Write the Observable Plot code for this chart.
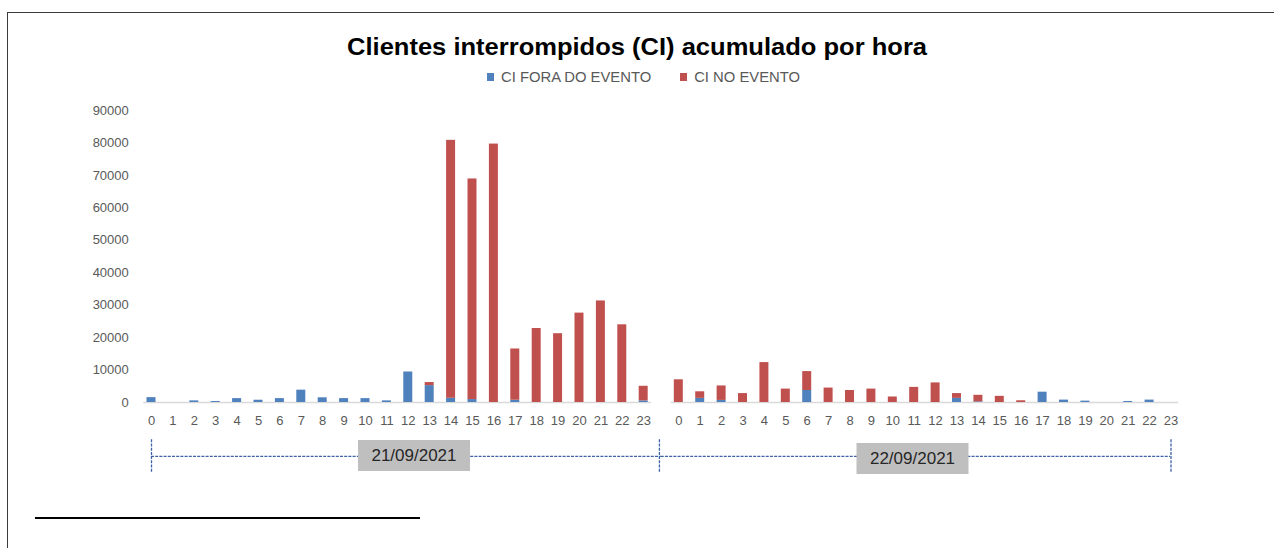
<!DOCTYPE html>
<html>
<head>
<meta charset="utf-8">
<script src="https://cdn.jsdelivr.net/npm/d3@7"></script>
<script src="https://cdn.jsdelivr.net/npm/@observablehq/plot@0.6"></script>
<style>
  body { margin: 0; background: #fff; }
  #wrap { position: relative; width: 1274px; height: 548px; overflow: hidden; font-family: "Liberation Sans", Arial, sans-serif; }
  #chart { position: absolute; left: 0; top: 0; }
  #bTop { position: absolute; left: 7px; top: 12px; width: 1270px; height: 0; border-top: 1.5px solid #3a3a3a; }
  #bLeft { position: absolute; left: 7px; top: 12px; width: 0; height: 540px; border-left: 1.5px solid #3a3a3a; }
  #title { position: absolute; top: 34px; left: 0; width: 1274px; text-align: center; white-space: nowrap; }
  #title span { display: inline-block; font-weight: bold; font-size: 23.5px; color: #000; transform-origin: center; }
  #legend { position: absolute; top: 69px; left: 487px; display: flex; align-items: center; font-size: 14.8px; color: #595959; white-space: nowrap; }
  #legend .sw { width: 7px; height: 8px; margin-right: 7px; }
  #legend .item { display: flex; align-items: center; }
  #foot { position: absolute; left: 35px; top: 517px; width: 385px; height: 2px; background: #000; }
</style>
</head>
<body>
<div id="wrap">
  <div id="chart"></div>
  <div id="bTop"></div>
  <div id="bLeft"></div>
  <div id="title"><span id="titleText"></span></div>
  <div id="legend"></div>
  <div id="foot"></div>
</div>
<script>
// ---- Data ----
const titleText = "Clientes interrompidos (CI) acumulado por hora";
const days = ["21/09/2021", "22/09/2021"];
const hours = [0,1,2,3,4,5,6,7,8,9,10,11,12,13,14,15,16,17,18,19,20,21,22,23];
const series = ["CI FORA DO EVENTO", "CI NO EVENTO"];
const colors = ["#4F81BD", "#C0504D"];
const yTicks = [0,10000,20000,30000,40000,50000,60000,70000,80000,90000];

// Day 1 (21/09/2021)
const fora1 = [1500,0,500,300,1200,700,1200,3800,1450,1200,1200,500,9400,5200,1300,900,0,700,0,0,0,0,0,500];
const no1   = [0,0,0,0,0,0,0,0,0,0,0,0,0,950,79500,68000,79650,15800,22800,21200,27550,31300,23950,4500];
// Day 2 (22/09/2021)
const fora2 = [0,1270,640,0,0,0,3700,0,0,0,0,0,0,1270,200,0,0,3180,740,420,0,300,740,0];
const no2   = [7000,2030,4460,2750,12300,4130,5830,4450,3700,4130,1700,4660,6040,1480,2020,1900,530,0,0,0,0,0,0,0];

// ---- Tidy table ----
const rows = [];
[[fora1, no1], [fora2, no2]].forEach(([fora, no], di) => {
  hours.forEach((h, i) => {
    rows.push({day: days[di], hour: h, serie: series[0], value: fora[i]});
    rows.push({day: days[di], hour: h, serie: series[1], value: no[i]});
  });
});

// ---- Title & legend ----
const tEl = document.getElementById("titleText");
tEl.textContent = titleText;
const legend = document.getElementById("legend");
series.forEach((s, i) => {
  const it = document.createElement("div");
  it.className = "item";
  if (i > 0) it.style.marginLeft = "29px";
  const sw = document.createElement("div");
  sw.className = "sw";
  sw.style.background = colors[i];
  const tx = document.createElement("span");
  tx.textContent = s;
  it.appendChild(sw); it.appendChild(tx);
  legend.appendChild(it);
});

// ---- Chart ----
const annY = -16600;      // level of the date axis (below the baseline)
const dash = {stroke: "#3d62a6", strokeWidth: 1.3, strokeDasharray: "3,1.2"};
const boxSymbol = {draw(ctx) { ctx.rect(-56, -15.5, 112, 31); }};

const plot = Plot.plot({
  width: 1274,
  height: 548,
  marginTop: 110,
  marginBottom: 146,
  marginLeft: 143.3,
  marginRight: 95.8,
  style: {fontFamily: "'Liberation Sans', Arial, sans-serif", fontSize: "13px", color: "#595959", background: "transparent", overflow: "visible"},
  fx: {domain: days, paddingInner: 0.0374, paddingOuter: 0, round: false, axis: null, label: null},
  x: {type: "band", domain: hours, paddingInner: 0.58, paddingOuter: 0.15, align: 0.5, round: false, label: null, tickSize: 0, tickPadding: 13},
  y: {domain: [0, 90000], ticks: yTicks, tickFormat: d => String(d), tickSize: 0, tickPadding: 15, label: null},
  color: {domain: series, range: colors},
  marks: [
    Plot.ruleY([0], {stroke: "#d9d9d9", strokeWidth: 1.3}),
    Plot.barY(rows, {fx: "day", x: "hour", y: "value", fill: "serie", order: series}),
    // date level of the category axis
    Plot.ruleY([days[0]], {fx: d => d, y: () => annY, insetLeft: 7.7, insetRight: -9.85, ...dash, clip: false}),
    Plot.ruleY([days[1]], {fx: d => d, y: () => annY, insetLeft: -9.85, insetRight: 8.2, ...dash, clip: false}),
    Plot.ruleX([days[0]], {fx: d => d, x: () => hours[0], y1: () => -11500, y2: () => -21500, ...dash}),
    Plot.ruleX([days[0]], {fx: d => d, x: () => hours[23], dx: 15.75, y1: () => -11500, y2: () => -21500, ...dash}),
    Plot.ruleX([days[1]], {fx: d => d, x: () => hours[23], y1: () => -11500, y2: () => -21500, ...dash}),
    Plot.dot([days[0]], {fx: d => d, frameAnchor: "bottom", dx: 16.4, dy: 53, symbol: boxSymbol, r: 10, fill: "#bfbfbf", stroke: "none"}),
    Plot.dot([days[1]], {fx: d => d, frameAnchor: "bottom", dx: -12.4, dy: 56, symbol: boxSymbol, r: 10, fill: "#bfbfbf", stroke: "none"}),
    Plot.text([days[0]], {fx: d => d, text: d => d, frameAnchor: "bottom", lineAnchor: "middle", dx: 16.4, dy: 53, fontSize: 17, fill: "#262626"}),
    Plot.text([days[1]], {fx: d => d, text: d => d, frameAnchor: "bottom", lineAnchor: "middle", dx: -12.4, dy: 56, fontSize: 17, fill: "#262626"})
  ]
});
document.getElementById("chart").appendChild(plot);

// fit title width to the reference's span
requestAnimationFrame(() => {
  const w = tEl.getBoundingClientRect().width;
  if (w > 0) tEl.style.transform = `scaleX(${580 / w})`;
});
</script>
</body>
</html>
